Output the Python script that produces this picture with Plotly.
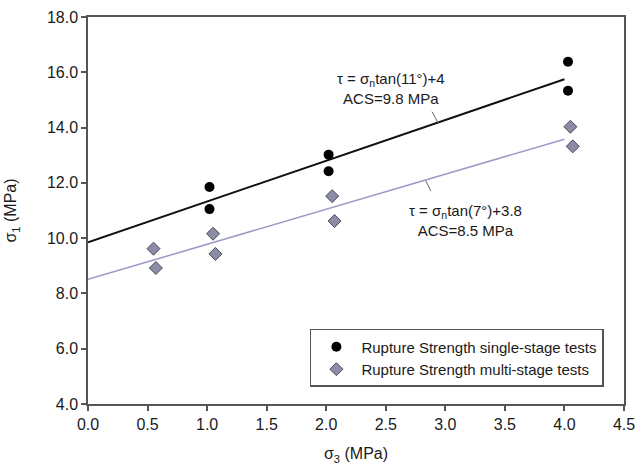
import plotly.graph_objects as go

# single-stage rupture strength (sigma3, sigma1)
single_x = [1.02, 1.02, 2.02, 2.02, 4.03, 4.03]
single_y = [11.85, 11.05, 13.02, 12.42, 16.38, 15.33]

# multi-stage rupture strength
multi_x = [0.55, 0.57, 1.05, 1.07, 2.05, 2.07, 4.05, 4.07]
multi_y = [9.62, 8.92, 10.16, 9.43, 11.52, 10.62, 14.03, 13.32]

# fitted lines
fit_x = [0.0, 4.0]
fit1_y = [9.85, 15.75]
fit2_y = [8.51, 13.58]

FONT = "Liberation Sans, Arial, sans-serif"

fig = go.Figure()
fig.add_trace(go.Scatter(x=fit_x, y=fit1_y, mode="lines", showlegend=False,
                         line=dict(color="#111111", width=2)))
fig.add_trace(go.Scatter(x=fit_x, y=fit2_y, mode="lines", showlegend=False,
                         line=dict(color="#9c9cc8", width=1.6)))
fig.add_trace(go.Scatter(x=single_x, y=single_y, mode="markers",
                         name="Rupture Strength single-stage tests",
                         marker=dict(symbol="circle", size=10, color="#000000")))
fig.add_trace(go.Scatter(x=multi_x, y=multi_y, mode="markers",
                         name="Rupture Strength multi-stage tests",
                         marker=dict(symbol="diamond", size=10, color="#8c8ca6",
                                     line=dict(color="#4a4a5a", width=1))))

axis_common = dict(showline=True, linecolor="#555555", linewidth=1.5, mirror=True,
                   ticks="outside", ticklen=5, tickcolor="#555555", tickwidth=1.5,
                   showgrid=False, zeroline=False, automargin=False,
                   tickfont=dict(family=FONT, size=16, color="#1a1a1a"))

fig.update_xaxes(range=[0, 4.5], dtick=0.5, tickformat=".1f",
                 title=dict(text="σ<sub>3</sub> (MPa)", standoff=16,
                            font=dict(family=FONT, size=16, color="#1a1a1a")),
                 **axis_common)
fig.update_yaxes(range=[4, 18], dtick=2, tickformat=".1f",
                 title=dict(text="σ<sub>1</sub> (MPa)", standoff=26,
                            font=dict(family=FONT, size=16, color="#1a1a1a")),
                 **axis_common)

fig.add_annotation(x=2.94, y=14.16, ax=-7, ay=-13, showarrow=True, arrowhead=0,
                   arrowwidth=1, arrowcolor="#666666", text="")
fig.add_annotation(x=2.54, y=15.40, showarrow=False,
                   text="τ = σ<sub>n</sub>tan(11°)+4<br>ACS=9.8 MPa",
                   font=dict(family=FONT, size=15, color="#1a1a1a"))
fig.add_annotation(x=2.835, y=12.08, ax=6, ay=12, showarrow=True, arrowhead=0,
                   arrowwidth=1, arrowcolor="#666666", text="")
fig.add_annotation(x=3.17, y=10.64, showarrow=False,
                   text="τ = σ<sub>n</sub>tan(7°)+3.8<br>ACS=8.5 MPa",
                   font=dict(family=FONT, size=15, color="#1a1a1a"))

fig.update_layout(
    width=638, height=469,
    margin=dict(l=88, r=14, t=17, b=65),
    plot_bgcolor="white", paper_bgcolor="white",
    font=dict(family=FONT, size=15, color="#1a1a1a"),
    legend=dict(x=0.414, y=0.194, xanchor="left", yanchor="top",
                bgcolor="white", bordercolor="#555555", borderwidth=1.5,
                font=dict(family=FONT, size=15, color="#1a1a1a"),
                itemwidth=40, tracegroupgap=0),
)

# drop the browser's default body margin so the figure sits at the page corner
fig.write_html("out.html", config={"displayModeBar": False},
               post_script="document.body.style.margin='0';")
